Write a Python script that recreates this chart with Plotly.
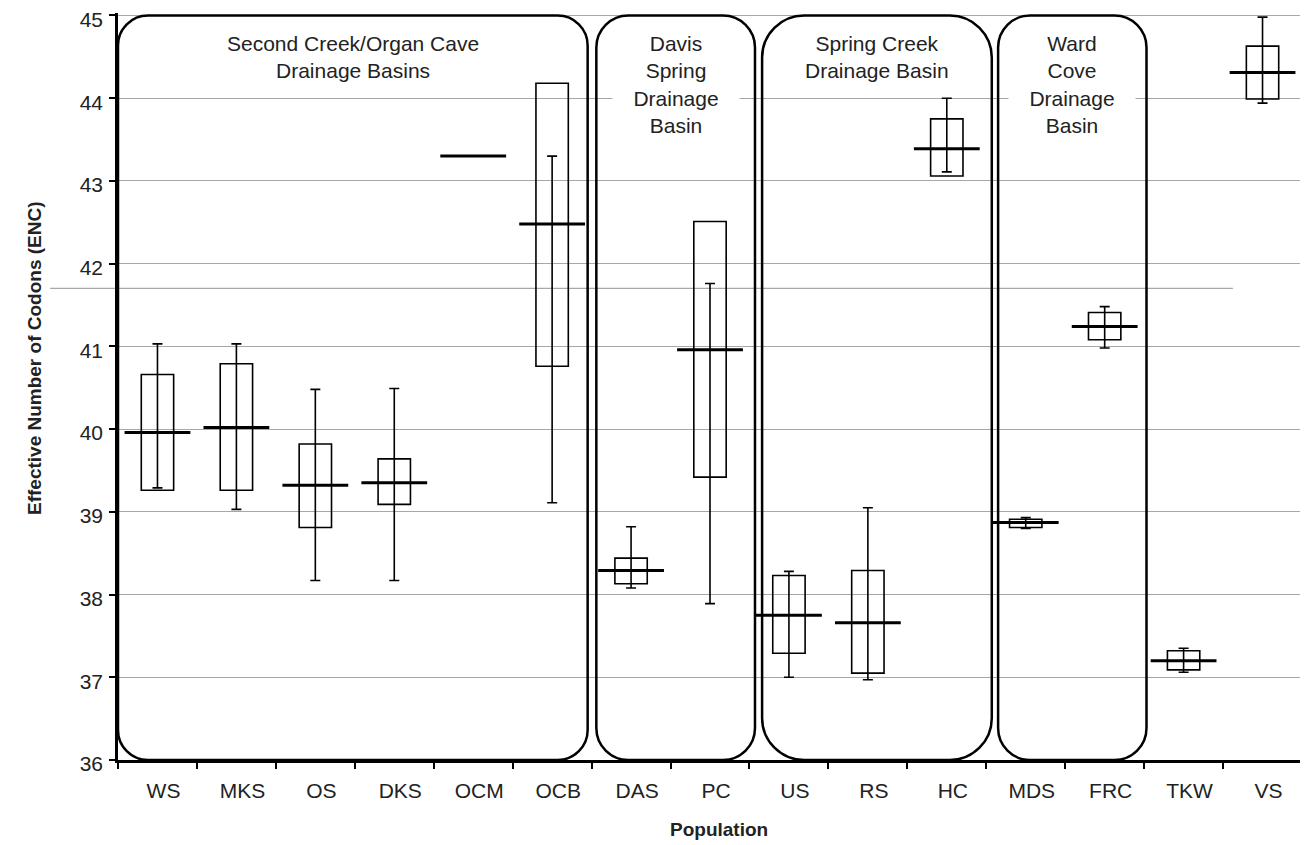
import plotly.graph_objects as go

# ---------------- data ----------------
populations = ["WS", "MKS", "OS", "DKS", "OCM", "OCB", "DAS", "PC",
               "US", "RS", "HC", "MDS", "FRC", "TKW", "VS"]
box_low = [39.26, 39.26, 38.81, 39.09, None, 40.76, 38.13, 39.42,
           37.29, 37.05, 43.06, 38.81, 41.08, 37.09, 43.99]
box_high = [40.66, 40.79, 39.82, 39.64, None, 44.18, 38.44, 42.51,
            38.23, 38.29, 43.75, 38.91, 41.41, 37.32, 44.63]
median = [39.96, 40.02, 39.32, 39.35, 43.30, 42.48, 38.29, 40.96,
          37.75, 37.66, 43.39, 38.87, 41.24, 37.20, 44.31]
whisker_low = [39.29, 39.03, 38.17, 38.17, None, 39.11, 38.08, 37.89,
               37.00, 36.97, 43.11, 38.80, 40.98, 37.06, 43.94]
whisker_high = [41.03, 41.03, 40.48, 40.49, None, 43.30, 38.82, 41.76,
                38.28, 39.05, 44.00, 38.93, 41.48, 37.35, 44.98]

group_labels = ["Second Creek/Organ Cave<br>Drainage Basins",
                "Davis<br>Spring<br>Drainage<br>Basin",
                "Spring Creek<br>Drainage Basin",
                "Ward<br>Cove<br>Drainage<br>Basin"]

y_ticks = [36, 37, 38, 39, 40, 41, 42, 43, 44, 45]
stray_line_value = 41.7

# ---------------- layout constants ----------------
# the page body has an 8px default margin, so the figure is 8px smaller
W, H = 1300, 837
ML, MR, MT, MB = 110, 6, 5, 85
Y_MIN, Y_MAX = 36, 45.03
FONT = "Liberation Sans, Arial, sans-serif"
TXT = "#222222"
GRID = "#a8a8a8"

plot_w = W - ML - MR
plot_h = H - MT - MB
px_per_cat = plot_w / len(populations)
px_per_unit = plot_h / (Y_MAX - Y_MIN)

# frame extents (category units) and corner radii (px)
frame_left = [-0.5, 5.56, 7.66, 10.65]
frame_right = [5.45, 7.57, 10.57, 12.53]
frame_radius = [30, 32, 42, 32]
label_y = [44.50, 44.17, 44.50, 44.17]
label_w = [None, 124, None, 124]

fig = go.Figure()

# boxes
heights = [None if lo is None else round(hi - lo, 3) for lo, hi in zip(box_low, box_high)]
fig.add_trace(go.Bar(
    x=populations, y=heights, base=box_low, width=0.41,
    marker=dict(color="rgba(0,0,0,0)", line=dict(color="black", width=1.6)),
    hoverinfo="skip"))

# whiskers + median line
err_plus = [None if h is None else round(h - m, 3) for h, m in zip(whisker_high, median)]
err_minus = [None if l is None else round(m - l, 3) for l, m in zip(whisker_low, median)]
fig.add_trace(go.Scatter(
    x=populations, y=median, mode="markers",
    marker=dict(symbol="line-ew", size=47, color="black",
                line=dict(color="black", width=3)),
    error_y=dict(type="data", symmetric=False, array=err_plus,
                 arrayminus=err_minus, width=5, thickness=1.6, color="black"),
    hoverinfo="skip"))


def rounded_path(x0, x1, y0, y1, r_px):
    rx = r_px / px_per_cat
    ry = r_px / px_per_unit
    k = 0.5523
    parts = [
        f"M{x0 + rx},{y1}", f"L{x1 - rx},{y1}",
        f"C{x1 - rx + k * rx},{y1} {x1},{y1 - ry + k * ry} {x1},{y1 - ry}",
        f"L{x1},{y0 + ry}",
        f"C{x1},{y0 + ry - k * ry} {x1 - rx + k * rx},{y0} {x1 - rx},{y0}",
        f"L{x0 + rx},{y0}",
        f"C{x0 + rx - k * rx},{y0} {x0},{y0 + ry - k * ry} {x0},{y0 + ry}",
        f"L{x0},{y1 - ry}",
        f"C{x0},{y1 - ry + k * ry} {x0 + rx - k * rx},{y1} {x0 + rx},{y1}",
        "Z"]
    return " ".join(parts)


shapes = []
# stray grey line present in the reference
shapes.append(dict(type="line", xref="paper", yref="y",
                   x0=-0.0574, x1=0.9417, y0=stray_line_value, y1=stray_line_value,
                   line=dict(color=GRID, width=1.3), layer="below"))
# the reference has no gridline at the top tick: mask it
shapes.append(dict(type="line", xref="paper", yref="y",
                   x0=0, x1=1, y0=y_ticks[-1], y1=y_ticks[-1],
                   line=dict(color="white", width=2.4), layer="between"))
for x0, x1, r in zip(frame_left, frame_right, frame_radius):
    shapes.append(dict(type="path", xref="x", yref="y",
                       path=rounded_path(x0, x1, 36, 45, r),
                       line=dict(color="black", width=2.5),
                       fillcolor="rgba(0,0,0,0)", layer="above"))

annotations = []
for lab, x0, x1, ly, lw in zip(group_labels, frame_left, frame_right, label_y, label_w):
    a = dict(text=lab, x=(x0 + x1) / 2, y=ly, xref="x", yref="y",
             showarrow=False, xanchor="center", yanchor="middle",
             font=dict(family=FONT, size=21, color=TXT),
             bgcolor="white", borderpad=1, align="center")
    if lw:
        a["width"] = lw
    annotations.append(a)

# axis titles
annotations.append(dict(text="<b>Effective Number of Codons (ENC)</b>",
                        xref="paper", yref="paper",
                        x=-(ML - 26) / plot_w, y=(H - MB - 350) / plot_h,
                        textangle=-90, showarrow=False,
                        xanchor="center", yanchor="middle",
                        font=dict(family=FONT, size=19, color=TXT)))
annotations.append(dict(text="<b>Population</b>",
                        xref="paper", yref="paper",
                        x=(711 - ML) / plot_w, y=-(821 - (H - MB)) / plot_h,
                        showarrow=False, xanchor="center", yanchor="middle",
                        font=dict(family=FONT, size=19, color=TXT)))

fig.update_layout(
    width=W, height=H,
    margin=dict(l=ML, r=MR, t=MT, b=MB, autoexpand=False),
    paper_bgcolor="white", plot_bgcolor="white",
    showlegend=False, barmode="overlay",
    font=dict(family=FONT, color=TXT),
    shapes=shapes, annotations=annotations,
    xaxis=dict(type="category", categoryorder="array", categoryarray=populations,
               range=[-0.5, len(populations) - 0.5], automargin=False,
               tickson="boundaries", ticks="outside", ticklen=6, tickwidth=2,
               tickcolor="black", showline=True, linecolor="black", linewidth=2.5,
               showgrid=False, zeroline=False, ticklabelshift=6,
               ticklabelstandoff=10,
               tickfont=dict(family=FONT, size=21, color=TXT)),
    yaxis=dict(range=[Y_MIN, Y_MAX], tickvals=y_ticks, ticks="outside",
               automargin=False, ticklabeloverflow="allow", ticklabelshift=4,
               ticklen=6, tickwidth=2, tickcolor="black",
               showline=True, linecolor="black", linewidth=2.5,
               showgrid=True, gridcolor=GRID, gridwidth=1.3,
               zeroline=False, ticklabelstandoff=2,
               tickfont=dict(family=FONT, size=21, color=TXT)),
)

fig.write_html("out.html")
